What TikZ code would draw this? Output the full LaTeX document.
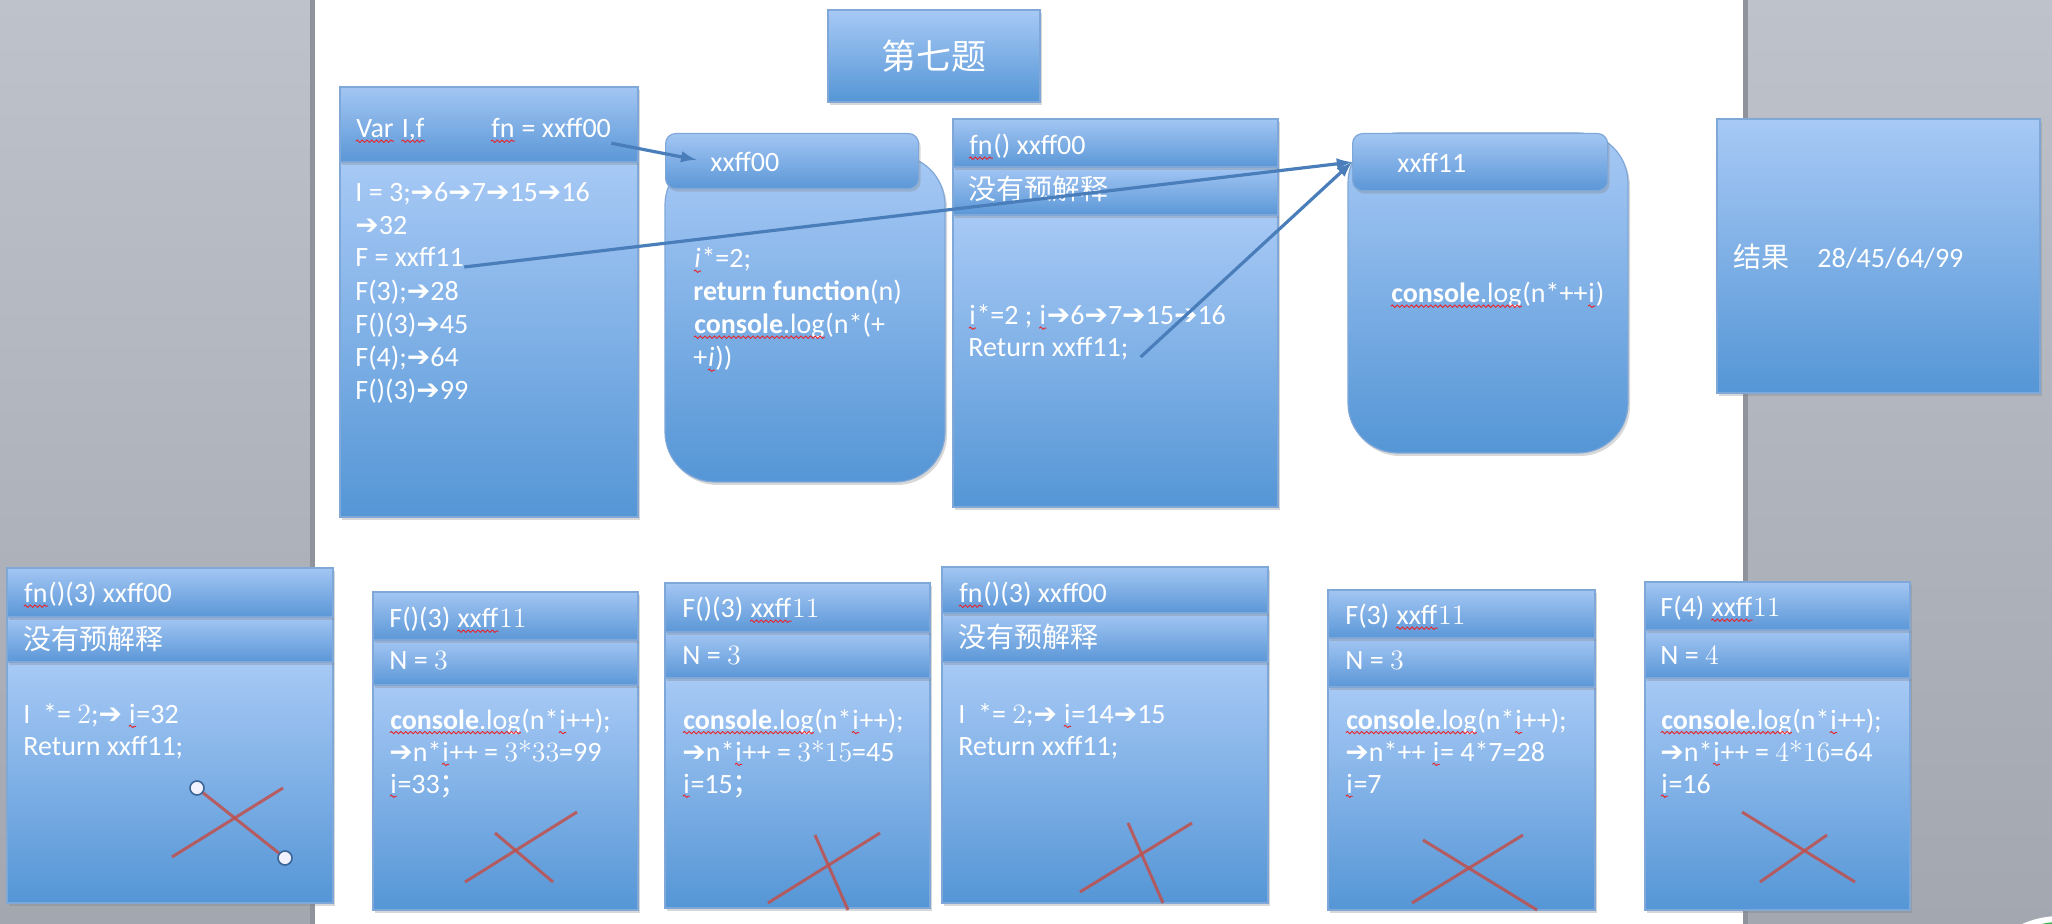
\documentclass[tikz,border=0pt]{standalone}
\usepackage{fontspec}
\setmainfont{Carlito}
\newfontfamily\cjk{Noto Sans CJK SC}
\newfontfamily\dvsans{DejaVu Sans}
\newfontfamily\lmnum{Latin Modern Roman}
\usetikzlibrary{shadows,decorations.pathmorphing}

\definecolor{boxtop}{HTML}{A7C9F5}
\definecolor{boxbot}{HTML}{5596D6}
\definecolor{bandtop}{HTML}{A3C6F3}
\definecolor{bandbot}{HTML}{5B97D7}
\definecolor{boxline}{HTML}{7FA7D8}
\definecolor{linkblue}{HTML}{4A7EBB}
\definecolor{crossred}{HTML}{C0504D}
\definecolor{squig}{HTML}{E8262B}
\definecolor{bgtop}{HTML}{BEC2CA}
\definecolor{bgbot}{HTML}{A2A7B0}
\definecolor{edge}{HTML}{8E939C}
\definecolor{badge}{HTML}{2FB54A}

\newcommand\rarr{{\dvsans\bfseries ➔}}
\newcommand\lmn[1]{{\lmnum #1}}
\newcommand\sq[1]{\tikz[baseline=(w.base)]{\node[inner sep=0pt, text=white] (w) {#1};
  \draw[squig, line width=0.45pt, decorate, decoration={snake, amplitude=0.6pt, segment length=2.4pt}]
  ([yshift=-1.6pt]w.base west) -- ([yshift=-1.6pt]w.base east);}}

\tikzset{
  panel/.style={draw=boxline, line width=0.6pt, top color=boxtop, bottom color=boxbot},
  band/.style={draw=boxline, line width=0.6pt, top color=bandtop, bottom color=bandbot},
  shade/.style={drop shadow={shadow xshift=1pt, shadow yshift=-1.5pt, opacity=0.3}},
  tab/.style={band, rounded corners=5pt, inner sep=0pt, anchor=north west},
  txt/.style={text=white, anchor=base west, inner sep=0pt, align=left,
    font=\fontsize{14}{16.5}\selectfont},
  tight/.style={font=\fontsize{14}{15.9}\selectfont},
  link/.style={draw=linkblue, line width=1.6pt, ->, >=latex},
  cross/.style={draw=crossred, line width=1.5pt, opacity=.85},
  grip/.style={draw=linkblue!80!black, fill=blue!5!white, line width=0.8pt}
}

\begin{document}
\begin{tikzpicture}[x=0.5pt, y=-0.5pt]
\useasboundingbox (0,0) rectangle (2052,924);
% slide and window
\shade[top color=bgtop, bottom color=bgbot] (0,0) rectangle (312,924);
\shade[top color=bgtop, bottom color=bgbot] (1746,0) rectangle (2052,924);
\fill[edge] (310,0) rectangle (315,924);
\fill[white] (315,0) rectangle (1743,924);
\fill[edge] (1743,0) rectangle (1748,924);
\fill[white] (2060,1010) circle (47pt);
\fill[badge] (2060,1010) circle (44pt);

% title
\node[panel, shade, minimum width=106pt, minimum height=46pt, text=white,
  font=\cjk\fontsize{17.5}{20}\selectfont] (title) at (934,56) {第七题};

% global scope
\draw[panel, shade] (340,162) rectangle (638,517);
\draw[band, shade] (340,87) rectangle (638,162);
\node[txt] (varA) at (355,138) {\sq{Var} \sq{I,f}};
\node[txt] (fnA) at (490,138) {\sq{fn} = xxff00};
\node[txt] (iA) at (355,235) {I = 3;\rarr6\rarr7\rarr15\rarr16\\\rarr32};
\node[txt] (fxA) at (355,267) {F = xxff11};
\node[txt] (callA) at (355,400) {F(3);\rarr28\\F()(3)\rarr45\\F(4);\rarr64\\F()(3)\rarr99};

% heap xxff00
\draw[panel, shade, rounded corners=25pt] (665,155) rectangle (945,482);
\node[tab, shade, minimum width=126.5pt, minimum height=27.5pt] (tabB) at (665,133) {};
\node[txt] (nB) at (710,172) {xxff00};
\node[txt] (codeB) at (693,367) {\sq{\textit{i}}*=2;\\\textbf{return function}(n)\\
  \sq{\textbf{console}.log}(n*(+\\+\sq{\textit{i}}))};

% fn() scope
\draw[panel, shade] (953,215) rectangle (1278,507);
\draw[band, shade] (953,167) rectangle (1278,215);
\draw[band, shade] (953,119) rectangle (1278,167);
\node[txt] (hC) at (968,155) {\sq{fn}() xxff00};
\node[txt] (nC) at (968,200) {\cjk 没有预解释};
\node[txt] (iC) at (968,325) {\sq{i}*=2 ; \sq{i}\rarr6\rarr7\rarr15\rarr16};
\node[txt] (retC) at (968,357) {Return xxff11;};

% heap xxff11
\draw[panel, shade, rounded corners=25pt] (1348,133) rectangle (1628,453);
\node[tab, shade, minimum width=127.5pt, minimum height=28.5pt] (tabD) at (1352,133) {};
\node[txt] (nD) at (1397,173) {xxff11};
\node[txt] (logD) at (1390,303) {\sq{\textbf{console}.log}(n*++\sq{i})};

% result
\draw[panel, shade] (1717,119) rectangle (2040,393);
\node[txt] (resE) at (1733,268) {{\cjk 结果}\quad 28/45/64/99};

% call fn()(3) first
\draw[panel, shade] (7,662) rectangle (333,903);
\draw[band, shade] (7,617) rectangle (333,662);
\draw[band, shade] (7,568) rectangle (333,617);
\node[txt] (h1) at (23,603) {\sq{fn}()(3) xxff00};
\node[txt] (n1) at (23,650) {\cjk 没有预解释};
\node[txt, tight] (b1) at (23,755) {I\ \ *= \lmn{2};\rarr\ \sq{i}=32\\Return xxff11;};
\draw[cross] (197,788) -- (285,858);
\draw[cross] (172,857) -- (283,788);
\draw[grip] (197,788) circle (3.5pt);
\draw[grip] (285,858) circle (3.5pt);

% call F()(3) -> 99
\draw[panel, shade] (373,685) rectangle (638,910);
\draw[band, shade] (373,640) rectangle (638,685);
\draw[band, shade] (373,592) rectangle (638,640);
\node[txt] (h2) at (389,628) {F()(3) \sq{xxff}\lmn{11}};
\node[txt] (n2) at (389,670) {N = \lmn{3}};
\node[txt, tight] (b2) at (389,793) {\sq{\textbf{console}.log}(n*\sq{i}++);\\
  \rarr n*\sq{i}++ = \lmn{3*33}=99\\\sq{i}=33{\cjk ；}};
\draw[cross] (495,833) -- (553,882);
\draw[cross] (465,882) -- (577,812);

% call F()(3) -> 45
\draw[panel, shade] (665,678) rectangle (930,908);
\draw[band, shade] (665,632) rectangle (930,678);
\draw[band, shade] (665,583) rectangle (930,632);
\node[txt] (h3) at (682,618) {F()(3) \sq{xxff}\lmn{11}};
\node[txt] (n3) at (682,665) {N = \lmn{3}};
\node[txt, tight] (b3) at (682,793) {\sq{\textbf{console}.log}(n*\sq{i}++);\\
  \rarr n*\sq{i}++ = \lmn{3*15}=45\\\sq{i}=15{\cjk ；}};
\draw[cross] (815,835) -- (848,910);
\draw[cross] (768,903) -- (880,833);

% call fn()(3) second
\draw[panel, shade] (942,662) rectangle (1268,903);
\draw[band, shade] (942,613) rectangle (1268,662);
\draw[band, shade] (942,567) rectangle (1268,613);
\node[txt] (h4) at (958,603) {\sq{fn}()(3) xxff00};
\node[txt] (n4) at (958,648) {\cjk 没有预解释};
\node[txt, tight] (b4) at (958,755) {I\ \ *= \lmn{2};\rarr\ \sq{i}=14\rarr15\\Return xxff11;};
\draw[cross] (1128,823) -- (1163,903);
\draw[cross] (1080,892) -- (1192,823);

% call F(3) -> 28
\draw[panel, shade] (1328,687) rectangle (1595,910);
\draw[band, shade] (1328,638) rectangle (1595,687);
\draw[band, shade] (1328,590) rectangle (1595,638);
\node[txt] (h5) at (1345,625) {F(3) \sq{xxff}\lmn{11}};
\node[txt] (n5) at (1345,670) {N = \lmn{3}};
\node[txt, tight] (b5) at (1345,793) {\sq{\textbf{console}.log}(n*\sq{i}++);\\
  \rarr n*++ \sq{i}= 4*7=28\\\sq{i}=7};
\draw[cross] (1423,840) -- (1537,910);
\draw[cross] (1412,903) -- (1523,835);

% call F(4) -> 64
\draw[panel, shade] (1645,678) rectangle (1910,910);
\draw[band, shade] (1645,630) rectangle (1910,678);
\draw[band, shade] (1645,582) rectangle (1910,630);
\node[txt] (h6) at (1660,617) {F(4) \sq{xxff}\lmn{11}};
\node[txt] (n6) at (1660,665) {N = \lmn{4}};
\node[txt, tight] (b6) at (1660,793) {\sq{\textbf{console}.log}(n*\sq{i}++);\\
  \rarr n*\sq{i}++ = \lmn{4*16}=64\\\sq{i}=16};
\draw[cross] (1742,812) -- (1855,882);
\draw[cross] (1760,882) -- (1827,835);

% references
\draw[link, shorten >=7pt] (fnA.south east) -- (nB.west);
\draw[link] (fxA.base east) -- (tabD.west);
\draw[link] ([xshift=6pt]retC.base east) -- (tabD.west);
\end{tikzpicture}
\end{document}
